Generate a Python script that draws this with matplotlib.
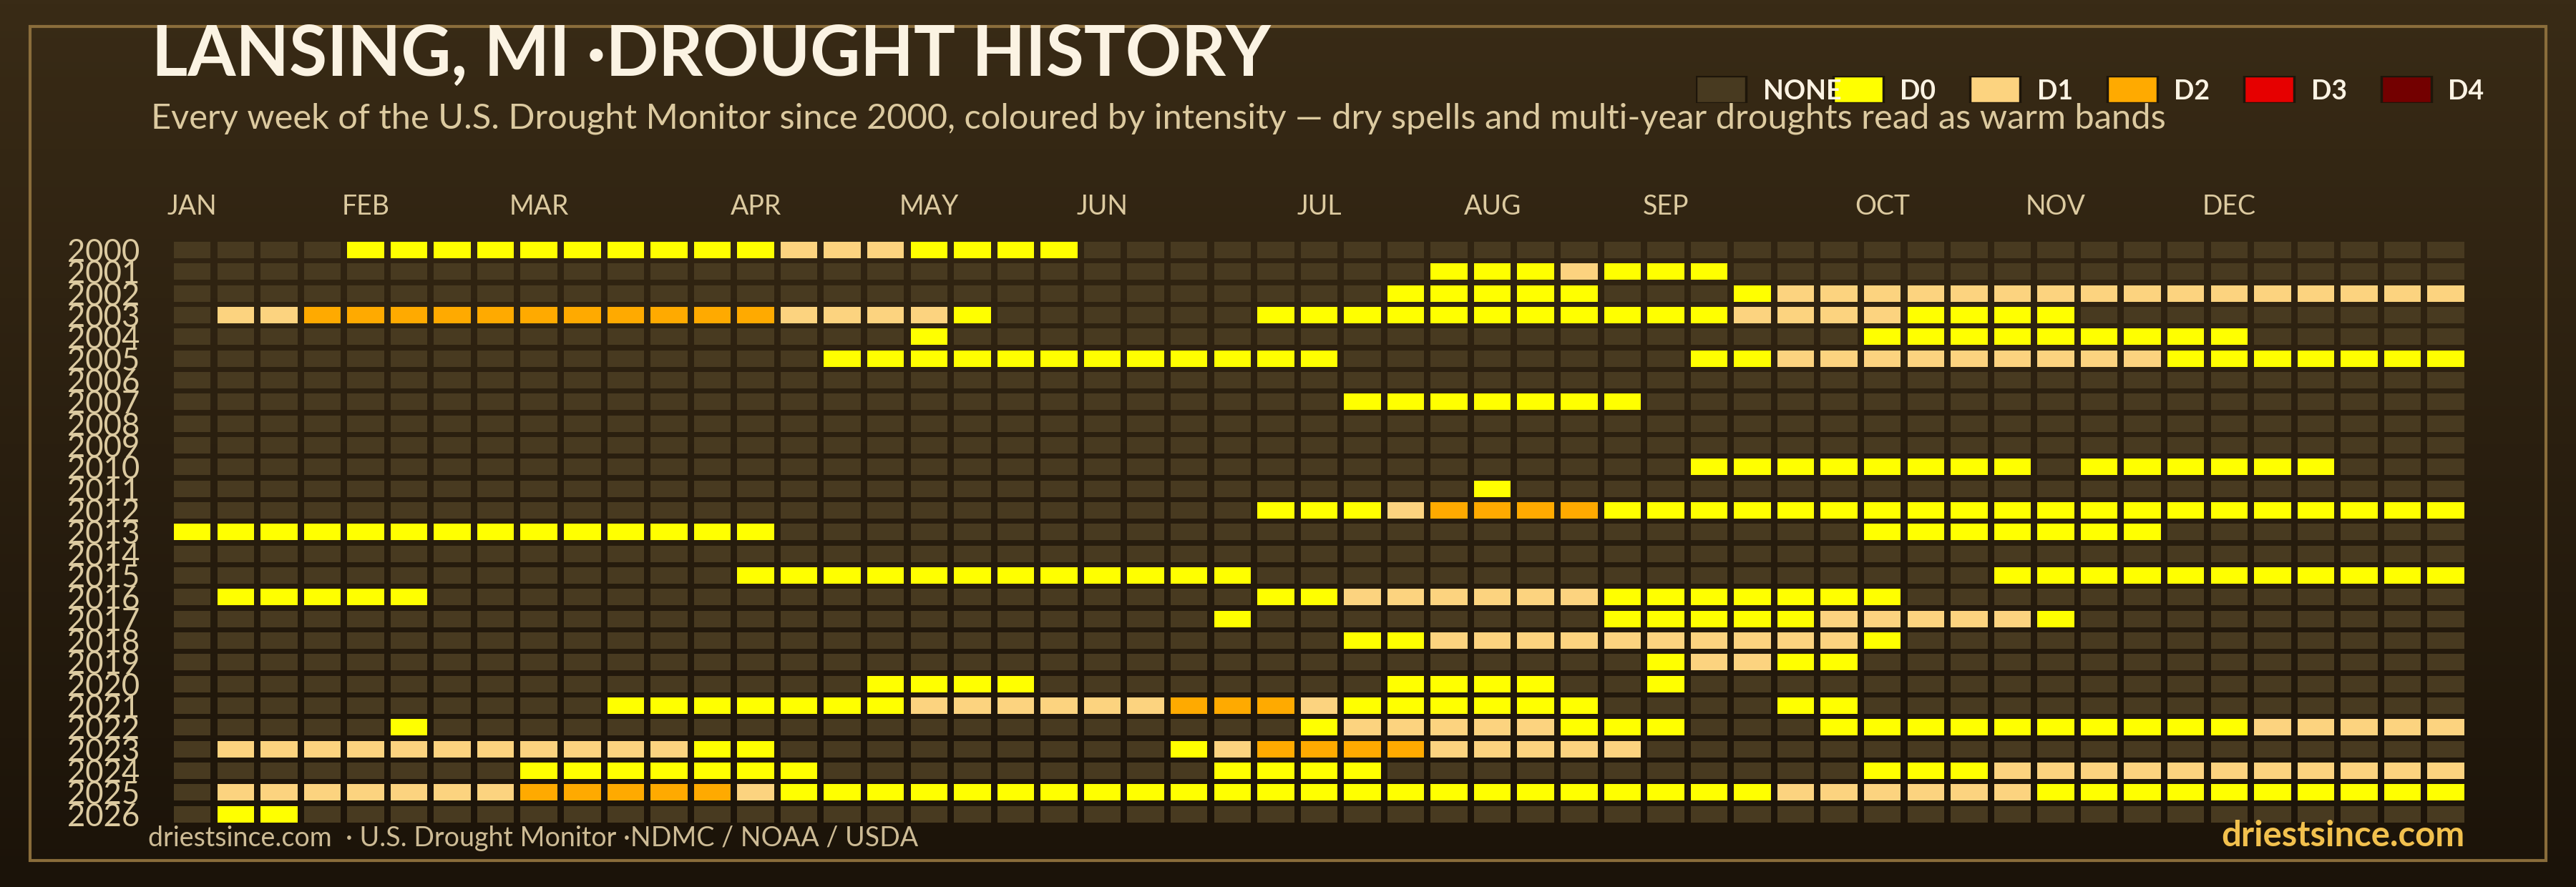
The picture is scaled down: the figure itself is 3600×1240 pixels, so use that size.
import matplotlib
matplotlib.use('Agg')
import matplotlib.pyplot as plt
import numpy as np
from matplotlib.patches import Rectangle

plt.rcParams['font.family'] = ['Lato', 'DejaVu Sans']

# --- data ---
years = list(range(2000, 2027))
n_weeks = 53
month_names = ['JAN', 'FEB', 'MAR', 'APR', 'MAY', 'JUN', 'JUL', 'AUG', 'SEP', 'OCT', 'NOV', 'DEC']
month_weeks = [0, 4, 8, 13, 17, 21, 26, 30, 34, 39, 43, 47]
level_names = ['NONE', 'D0', 'D1', 'D2', 'D3', 'D4']
level_colors = ['#483a20', '#ffff00', '#fcd37f', '#ffaa00', '#e60000', '#730000']

# (year, first week, last week, level) -- 1=D0, 2=D1, 3=D2
spells = [
    (2000, 4, 13, 1), (2000, 14, 16, 2), (2000, 17, 20, 1),
    (2001, 29, 31, 1), (2001, 32, 32, 2), (2001, 33, 35, 1),
    (2002, 28, 32, 1), (2002, 36, 36, 1), (2002, 37, 52, 2),
    (2003, 1, 2, 2), (2003, 3, 13, 3), (2003, 14, 17, 2), (2003, 18, 18, 1),
    (2003, 25, 35, 1), (2003, 36, 39, 2), (2003, 40, 43, 1),
    (2004, 17, 17, 1), (2004, 39, 47, 1),
    (2005, 15, 26, 1), (2005, 35, 36, 1), (2005, 37, 45, 2), (2005, 46, 52, 1),
    (2007, 27, 33, 1),
    (2010, 35, 42, 1), (2010, 44, 49, 1),
    (2011, 30, 30, 1),
    (2012, 25, 27, 1), (2012, 28, 28, 2), (2012, 29, 32, 3), (2012, 33, 52, 1),
    (2013, 0, 13, 1), (2013, 39, 45, 1),
    (2015, 13, 24, 1), (2015, 42, 52, 1),
    (2016, 1, 5, 1), (2016, 25, 26, 1), (2016, 27, 32, 2), (2016, 33, 39, 1),
    (2017, 24, 24, 1), (2017, 33, 37, 1), (2017, 38, 42, 2), (2017, 43, 43, 1),
    (2018, 27, 28, 1), (2018, 29, 38, 2), (2018, 39, 39, 1),
    (2019, 34, 34, 1), (2019, 35, 36, 2), (2019, 37, 38, 1),
    (2020, 16, 19, 1), (2020, 28, 31, 1), (2020, 34, 34, 1),
    (2021, 10, 16, 1), (2021, 17, 22, 2), (2021, 23, 25, 3), (2021, 26, 26, 2),
    (2021, 27, 32, 1), (2021, 37, 38, 1),
    (2022, 5, 5, 1), (2022, 26, 26, 1), (2022, 27, 31, 2), (2022, 32, 34, 1),
    (2022, 38, 47, 1), (2022, 48, 52, 2),
    (2023, 1, 11, 2), (2023, 12, 13, 1), (2023, 23, 23, 1), (2023, 24, 24, 2),
    (2023, 25, 28, 3), (2023, 29, 33, 2),
    (2024, 8, 14, 1), (2024, 24, 27, 1), (2024, 39, 41, 1), (2024, 42, 52, 2),
    (2025, 1, 7, 2), (2025, 8, 12, 3), (2025, 13, 13, 2), (2025, 14, 36, 1),
    (2025, 37, 42, 2), (2025, 43, 52, 1),
    (2026, 1, 2, 1),
]

grid = np.zeros((len(years), n_weeks), dtype=int)
for yr, w0, w1, lvl in spells:
    grid[yr - 2000, w0:w1 + 1] = lvl

W, H = 3600, 1240
fig = plt.figure(figsize=(36, 12.4), dpi=100)

def box(left, top, width, height):
    # pixel box (from top-left) -> figure fraction
    return [left / W, 1 - (top + height) / H, width / W, height / H]

# background gradient
bg = fig.add_axes([0, 0, 1, 1], zorder=-5)
top_c = np.array([0x39, 0x2b, 0x16]) / 255
bot_c = np.array([0x1b, 0x13, 0x09]) / 255
t = np.linspace(0, 1, 256)[:, None, None]
bg.imshow(top_c * (1 - t) + bot_c * t, aspect='auto', extent=[0, 1, 0, 1])
bg.axis('off')

# frame
fig.patches.append(Rectangle((42 / W, 1 - 1203 / H), 3516 / W, 1166 / H, fill=False,
                             edgecolor='#8a6d3b', linewidth=3, transform=fig.transFigure))

tan = '#dccaa0'
cream = '#fbf3e3'

# heatmap
ax = fig.add_axes(box(238.4, 334.3, 3210, 819))
ax.set_facecolor('none')
weeks = np.arange(n_weeks)
for r in range(len(years)):
    cols = [level_colors[v] for v in grid[r]]
    ax.bar(weeks, 0.76, bottom=r - 0.38, width=0.85, color=cols, linewidth=0)
ax.set_xlim(-0.5, n_weeks - 0.5)
ax.set_ylim(len(years) - 0.5, -0.5)
ax.set_yticks(range(len(years)))
ax.set_yticklabels([str(y) for y in years], fontsize=31.5, color=tan)
ax.set_xticks(month_weeks)
ax.set_xticklabels(month_names, fontsize=27, color=tan)
ax.tick_params(axis='x', top=True, labeltop=True, bottom=False, labelbottom=False, length=0, pad=20)
ax.tick_params(axis='y', length=0, pad=31)
for s in ax.spines.values():
    s.set_visible(False)

# legend
lg = fig.add_axes(box(2370, 106, 6 * 191.5, 38))
lg.set_xlim(0, 6)
lg.set_ylim(0, 1)
lg.axis('off')
lg.bar(np.arange(6) + 0.183, 1, width=0.366, color=level_colors, edgecolor='#1e160a', linewidth=2.5)
for i, name in enumerate(level_names):
    lg.text(i + 0.49, 0.42, name, fontsize=27, fontweight='bold', color=cream, va='center', ha='left')

# titles and footer
title = fig.text(212 / W, 1 - 106 / H, 'LANSING, MI ·DROUGHT HISTORY', fontsize=70,
                 fontweight='bold', color=cream, va='baseline')
sub = fig.text(211 / W, 1 - 180 / H,
               'Every week of the U.S. Drought Monitor since 2000, coloured by intensity \u2014 '
               'dry spells and multi-year droughts read as warm bands',
               fontsize=33, color=tan, va='baseline')
foot = fig.text(207 / W, 1 - 1183 / H, 'driestsince.com  \u00b7 U.S. Drought Monitor \u00b7NDMC / NOAA / USDA',
                fontsize=24, color='#cdbb95', va='baseline')
brand = fig.text(3444 / W, 1 - 1183 / H, 'driestsince.com', fontsize=30, fontweight='bold',
                 color='#f2c14e', va='baseline', ha='right')

renderer = fig.canvas.get_renderer()
for txt, target in [(title, 1566), (sub, 2818), (foot, 1074), (brand, 340)]:
    w = txt.get_window_extent(renderer=renderer).width
    txt.set_fontsize(txt.get_fontsize() * target / w)

fig.savefig('out.png', dpi=100)
